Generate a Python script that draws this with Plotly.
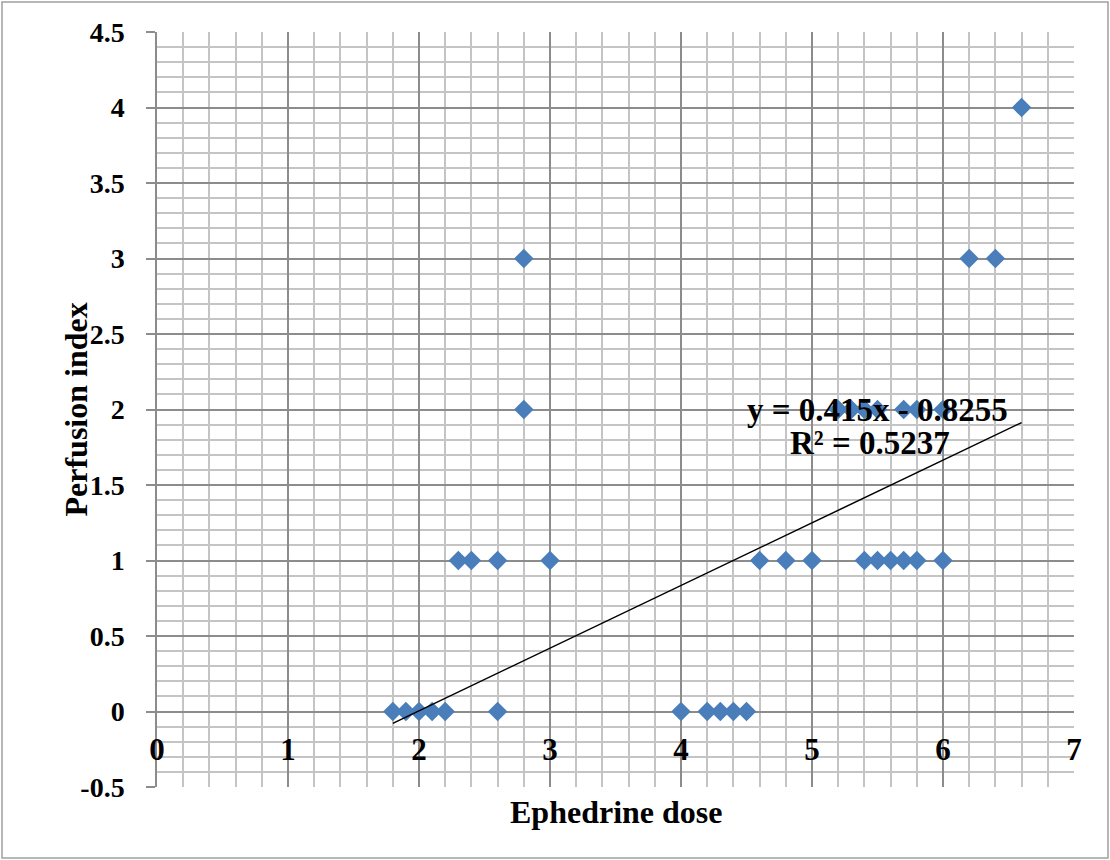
import plotly.graph_objects as go

# Data
dose = [1.8, 1.9, 2.0, 2.1, 2.2, 2.6, 4.0, 4.2, 4.3, 4.4, 4.5,
        2.3, 2.4, 2.6, 3.0, 4.6, 4.8, 5.0, 5.4, 5.5, 5.6, 5.7, 5.8, 6.0,
        2.8, 5.2, 5.3, 5.4, 5.5, 5.7, 5.8, 6.0,
        2.8, 6.2, 6.4,
        6.6]
perfusion = [0]*11 + [1]*13 + [2]*8 + [3]*3 + [4]

slope = 0.415
intercept = -0.8255
r2 = 0.5237

x_ticks = [0, 1, 2, 3, 4, 5, 6, 7]
y_ticks = [-0.5, 0, 0.5, 1, 1.5, 2, 2.5, 3, 3.5, 4, 4.5]

W, H = 1110, 860
L, R, T, B = 157, 36, 32, 73
PW, PH = W - L - R, H - T - B

FONT = "Liberation Serif"
MAJOR = "#8c8c8c"
MINOR = "#c4c4c4"
TICK_SIZE = 28
XTICK_SIZE = 31
TITLE_SIZE = 32
EQ_SIZE = 33

fig = go.Figure()
fig.add_trace(go.Scatter(
    x=dose, y=perfusion, mode="markers",
    marker=dict(symbol="diamond", size=15, color="#4a7ebb",
                line=dict(width=0)),
    showlegend=False, hoverinfo="x+y"))

xmin, xmax = min(dose), max(dose)
fig.add_trace(go.Scatter(
    x=[xmin, xmax], y=[slope * xmin + intercept, slope * xmax + intercept],
    mode="lines", line=dict(color="black", width=1.5),
    showlegend=False, hoverinfo="skip"))

fig.update_layout(
    width=W, height=H,
    margin=dict(l=L, r=R, t=T, b=B),
    paper_bgcolor="white", plot_bgcolor="white",
    font=dict(family=FONT, size=TICK_SIZE, color="black"),
    xaxis=dict(
        range=[0, 7], tickvals=x_ticks, ticktext=[str(v) for v in x_ticks],
        showgrid=True, gridcolor=MAJOR, gridwidth=1.5,
        minor=dict(dtick=0.2, tick0=0, showgrid=True, gridcolor=MINOR, gridwidth=1.5),
        zeroline=False, showline=False,
        anchor="free", position=0.1,
        ticks="", ticklabelstandoff=16,
        tickfont=dict(family=FONT, size=XTICK_SIZE, color="black", weight="bold"),
    ),
    yaxis=dict(
        range=[-0.5, 4.5], tickvals=y_ticks, ticktext=[("%g" % v) for v in y_ticks],
        showgrid=True, gridcolor=MAJOR, gridwidth=1.5,
        minor=dict(dtick=0.1, tick0=0, showgrid=True, gridcolor=MINOR, gridwidth=1.5),
        zeroline=True, zerolinecolor=MAJOR, zerolinewidth=1.5,
        showline=True, linecolor=MAJOR, linewidth=1.5,
        ticks="outside", ticklen=9, tickcolor=MAJOR, tickwidth=1.5,
        ticklabelstandoff=16,
        tickfont=dict(family=FONT, size=TICK_SIZE, color="black", weight="bold"),
    ),
)

# Axis titles
fig.add_annotation(text="<b>Ephedrine dose</b>", xref="paper", yref="paper",
                   x=0.5, y=-(812 - (T + PH)) / PH, yanchor="middle", showarrow=False,
                   font=dict(family=FONT, size=TITLE_SIZE, color="black"))
fig.add_annotation(text="<b>Perfusion index</b>", xref="paper", yref="paper",
                   x=-(L - 55) / PW, y=0.5, textangle=-90, showarrow=False,
                   font=dict(family=FONT, size=TITLE_SIZE, color="black"))

# Trendline equation
fig.add_annotation(text="<b>y = %.3fx - %.4f</b>" % (slope, -intercept),
                   x=5.5, y=2.0, showarrow=False,
                   font=dict(family=FONT, size=EQ_SIZE, color="black"))
fig.add_annotation(text="<b>R² = %.4f</b>" % r2,
                   x=5.44, y=1.775, showarrow=False,
                   font=dict(family=FONT, size=EQ_SIZE, color="black"))

# Outer chart border
fig.add_shape(type="rect", xref="paper", yref="paper",
              x0=-(L - 2) / PW, x1=1 + (R - 2) / PW,
              y0=-(B - 2) / PH, y1=1 + (T - 2) / PH,
              line=dict(color="#a0a0a0", width=1.5), layer="below")

fig.write_html("out.html", config={"displayModeBar": False},
               post_script="document.body.style.margin='0';document.body.style.padding='0';")
